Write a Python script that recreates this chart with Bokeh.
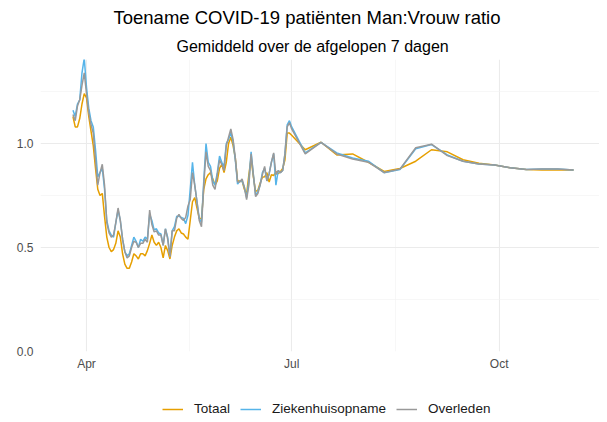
import pandas as pd
from bokeh.plotting import figure
from bokeh.layouts import column
from bokeh.models import Range1d, FixedTicker, Title, Legend, LegendItem, ColumnDataSource
from bokeh.embed import file_html
from bokeh.resources import INLINE

# ---- data ----
daily_dates = pd.date_range("2020-03-26", "2020-07-01", freq="D")
weekly_dates = ["2020-07-07", "2020-07-14", "2020-07-21", "2020-07-28", "2020-08-04",
                "2020-08-11", "2020-08-18", "2020-08-25", "2020-09-01", "2020-09-08",
                "2020-09-15", "2020-09-22", "2020-09-29", "2020-10-06", "2020-10-13",
                "2020-10-20", "2020-10-27", "2020-11-03"]

totaal_daily = [1.13, 1.08, 1.08, 1.12, 1.19, 1.24, 1.22,
                1.13, 1.06, 0.99, 0.88, 0.78, 0.75, 0.76, 0.65, 0.55, 0.50,
                0.48, 0.49, 0.52, 0.58, 0.55, 0.47, 0.42, 0.40, 0.40, 0.43,
                0.47, 0.46, 0.445, 0.47, 0.47, 0.46, 0.485, 0.52, 0.56, 0.525,
                0.51, 0.525, 0.50, 0.45, 0.51, 0.485, 0.445, 0.51, 0.55, 0.58,
                0.59, 0.57, 0.565, 0.55, 0.54, 0.63, 0.72, 0.74, 0.69, 0.64,
                0.64, 0.78, 0.83, 0.85, 0.86, 0.83, 0.80, 0.82, 0.88, 0.90,
                0.86, 0.91, 1.00, 1.03, 0.99, 0.93, 0.82, 0.82, 0.82, 0.78,
                0.757, 0.85, 0.93, 0.84, 0.77, 0.775, 0.81, 0.838, 0.84, 0.86,
                0.815, 0.85, 0.846, 0.865, 0.855, 0.865, 0.88, 0.92, 1.05, 1.05, 1.04]
zkh_daily = [1.16, 1.13, 1.19, 1.21, 1.34, 1.41, 1.27,
             1.17, 1.11, 1.08, 0.97, 0.84, 0.86, 0.88, 0.78, 0.63, 0.58,
             0.56, 0.55, 0.62, 0.68, 0.63, 0.54, 0.48, 0.46, 0.47, 0.51,
             0.55, 0.53, 0.50, 0.54, 0.53, 0.55, 0.54, 0.66, 0.63, 0.585,
             0.59, 0.57, 0.565, 0.51, 0.59, 0.55, 0.46, 0.58, 0.60, 0.65,
             0.65, 0.645, 0.64, 0.615, 0.655, 0.78, 0.91, 0.80, 0.72, 0.64,
             0.62, 0.82, 1.00, 0.91, 0.89, 0.82, 0.80, 0.86, 0.94, 0.91,
             0.89, 1.00, 1.02, 1.05, 1.01, 0.92, 0.805, 0.82, 0.82, 0.79,
             0.74, 0.82, 0.96, 0.85, 0.75, 0.77, 0.80, 0.86, 0.88, 0.82,
             0.855, 0.91, 0.95, 0.80, 0.87, 0.86, 0.87, 0.95, 1.09, 1.11, 1.08]
overleden_daily = [1.14, 1.11, 1.18, 1.21, 1.28, 1.34, 1.24,
                   1.15, 1.09, 1.05, 0.92, 0.80, 0.86, 0.90, 0.80, 0.62, 0.57,
                   0.55, 0.56, 0.62, 0.69, 0.63, 0.54, 0.48, 0.45, 0.46, 0.50,
                   0.53, 0.525, 0.50, 0.52, 0.52, 0.54, 0.525, 0.68, 0.61, 0.575,
                   0.58, 0.56, 0.56, 0.51, 0.59, 0.54, 0.455, 0.58, 0.58, 0.64,
                   0.66, 0.64, 0.63, 0.645, 0.70, 0.73, 0.86, 0.80, 0.72, 0.63,
                   0.60, 0.80, 0.96, 0.89, 0.87, 0.80, 0.78, 0.85, 0.92, 0.90,
                   0.87, 0.99, 1.03, 1.07, 1.02, 0.93, 0.815, 0.815, 0.83, 0.79,
                   0.73, 0.80, 0.95, 0.85, 0.745, 0.76, 0.80, 0.85, 0.89, 0.82,
                   0.855, 0.91, 0.955, 0.85, 0.87, 0.86, 0.87, 0.95, 1.08, 1.10, 1.07]

totaal_weekly = [0.97, 1.006, 0.945, 0.95, 0.91, 0.866, 0.88, 0.915, 0.97,
                 0.96, 0.922, 0.905, 0.897, 0.883, 0.875, 0.873, 0.873, 0.873]
zkh_weekly = [0.955, 1.006, 0.955, 0.93, 0.915, 0.86, 0.875, 0.975, 0.995,
              0.945, 0.915, 0.902, 0.897, 0.883, 0.875, 0.878, 0.878, 0.873]
overleden_weekly = [0.95, 1.006, 0.95, 0.926, 0.91, 0.86, 0.877, 0.98, 0.997,
                    0.942, 0.915, 0.902, 0.897, 0.883, 0.875, 0.878, 0.878, 0.873]

series_names = ["Totaal", "Ziekenhuisopname", "Overleden"]
series_colors = ["#E69F00", "#56B4E9", "#999999"]
tick_labels = ["Apr", "Jul", "Oct"]
tick_dates = ["2020-04-01", "2020-07-01", "2020-10-01"]

# ---- build ----
dates = list(daily_dates) + list(pd.to_datetime(weekly_dates))
values = [totaal_daily + totaal_weekly, zkh_daily + zkh_weekly, overleden_daily + overleden_weekly]


def ms(ts):
    return pd.Timestamp(ts).value / 1e6


DAY = 86400000.0
x_start = ms("2020-04-01") - 20.4 * DAY
x_end = x_start + 247.9 * DAY

p = figure(frame_width=559, frame_height=292, output_backend="svg", toolbar_location=None,
           x_range=Range1d(x_start, x_end), y_range=Range1d(0, 1.404),
           min_border_left=40, min_border_right=0, min_border_top=59, min_border_bottom=26,
           title="Toename COVID-19 patiënten Man:Vrouw ratio")
p.title.align = "left"
p.title.offset = 73
p.title.text_font = "Liberation Sans"
p.title.text_font_size = "18.5px"
p.title.text_font_style = "normal"
p.title.text_color = "#000000"
p.title.standoff = 6
sub_title = Title(text="Gemiddeld over de afgelopen 7 dagen", align="left", offset=136,
                  text_font="Liberation Sans", text_font_size="16px",
                  text_font_style="normal", text_color="#000000", standoff=10)
p.add_layout(sub_title, "above")

p.outline_line_color = None
p.background_fill_color = "white"
p.border_fill_color = "white"

tick_ms = [ms(d) for d in tick_dates]
minor_ms = [(tick_ms[0] + tick_ms[1]) / 2, (tick_ms[1] + tick_ms[2]) / 2]
p.xaxis.ticker = FixedTicker(ticks=tick_ms, minor_ticks=minor_ms)
p.xaxis.major_label_overrides = {t: lab for t, lab in zip(tick_ms, tick_labels)}
p.yaxis.ticker = FixedTicker(ticks=[0.0, 0.5, 1.0], minor_ticks=[0.25, 0.75, 1.25])
p.yaxis.major_label_overrides = {0.0: "0.0", 0.5: "0.5", 1.0: "1.0"}

for ax in (p.xaxis, p.yaxis):
    ax.axis_line_color = None
    ax.major_tick_line_color = None
    ax.minor_tick_line_color = None
    ax.major_tick_out = 0
    ax.minor_tick_out = 0
    ax.major_label_text_font = "Liberation Sans"
    ax.major_label_text_font_size = "12px"
    ax.major_label_text_color = "#4D4D4D"
p.xaxis.major_label_standoff = 5
p.yaxis.major_label_standoff = 7

for g in (p.xgrid, p.ygrid):
    g.grid_line_color = "#EBEBEB"
    g.grid_line_width = 1.1
    g.minor_grid_line_color = "#F2F2F2"
    g.minor_grid_line_width = 0.6

for name, col, vals in zip(series_names, series_colors, values):
    src = ColumnDataSource(dict(x=dates, y=vals))
    p.line("x", "y", source=src, line_color=col, line_width=1.5)

# ---- legend strip under the chart (its frame is aligned with the chart's frame) ----
lg = figure(width=599, height=45, output_backend="svg", toolbar_location=None,
            x_range=Range1d(0, 1), y_range=Range1d(0, 1),
            x_axis_location=None, y_axis_location=None,
            min_border_left=0, min_border_right=0, min_border_top=0, min_border_bottom=0)
lg.grid.visible = False
lg.outline_line_color = None
lg.background_fill_color = "white"
lg.border_fill_color = "white"
# key renderers: a single point placed outside the visible range, so only the legend key shows
key_renderers = [lg.line(x=[-1], y=[-1], line_color=col, line_width=1.5) for col in series_colors]
legend = Legend(items=[LegendItem(label=n, renderers=[r]) for n, r in zip(series_names, key_renderers)],
                orientation="horizontal", location=(122, 6), padding=0, spacing=10, margin=0,
                glyph_width=21, glyph_height=14, label_standoff=11, label_height=14,
                label_text_font="Liberation Sans", label_text_font_size="13.5px",
                label_text_color="#1A1A1A", border_line_color=None,
                background_fill_alpha=0)
lg.add_layout(legend, "center")

layout = column(p, lg, spacing=0)
open("out.html", "w").write(file_html(layout, INLINE))
